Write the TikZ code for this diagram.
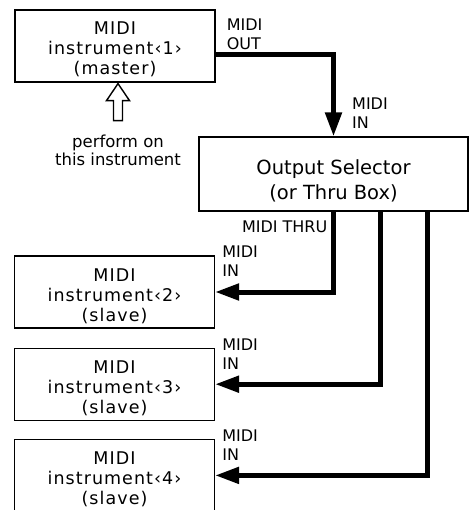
\documentclass[tikz,border=0pt]{standalone}
\usepackage{fontspec}
\setmainfont{DejaVu Sans}
\newfontfamily\widefont{DejaVu Sans}[LetterSpace=6]
\usetikzlibrary{arrows.meta, positioning}

\begin{document}
\begin{tikzpicture}[x=1pt, y=-1pt]
  \tikzset{
    inst/.style={draw, line width=1.2pt, minimum width=200pt,
      minimum height=72pt, inner sep=0pt, align=center,
      text height=62pt, text depth=4pt,
      font=\widefont\fontsize{17.5}{20}\selectfont},
    selbox/.style={inst, minimum width=269pt, minimum height=74pt,
      text height=56pt, text depth=4pt,
      font=\fontsize{19.5}{25}\selectfont},
    lbl/.style={inner sep=0pt, align=left,
      font=\fontsize{16}{19}\selectfont},
    perf/.style={inner sep=0pt, align=center,
      font=\fontsize{16.5}{18}\selectfont},
    arr/.style={-{Triangle[length=24pt, width=16pt]}, line width=5pt},
    hollow/.style={line width=1.4pt, line join=miter},
  }
  \useasboundingbox (0,0) rectangle (469,510);
  % Master and selector
  \node[inst] (b1) at (115,46) {MIDI\\instrument‹1›\\(master)};
  \node[selbox] (sel) at (333.5,174) {Output Selector\\(or Thru Box)};
  % Slaves
  \node[inst] (b2) at (114.5,292) {MIDI\\instrument‹2›\\(slave)};
  \node[inst, below=19pt of b2] (b3) {MIDI\\instrument‹3›\\(slave)};
  \node[inst, below=18pt of b3] (b4) {MIDI\\instrument‹4›\\(slave)};
  % Perform arrow
  \coordinate (tip) at ([shift={(3pt,-1pt)}]b1.south);
  \draw[hollow] (tip) -- ++(-11.5,17) -- ++(7,0) -- ++(0,20)
    -- ++(9,0) -- ++(0,-20) -- ++(7,0) -- cycle;
  \coordinate (tail) at ([yshift=-38pt]tip);
  \node[perf, anchor=north] (play) at ([yshift=-13pt]tail)
    {perform on\\this instrument};
  % Arrows
  \coordinate (outport) at ([yshift=-9pt]b1.east);
  \draw[arr] (outport) -| (sel.north);
  \draw[arr] (sel.south) |- (b2.east);
  \draw[arr] ([xshift=46.5pt]sel.south) |- (b3.east);
  \draw[arr] ([xshift=94pt]sel.south) |- (b4.east);
  % Port labels
  \node[lbl, anchor=south west] (lout) at ([shift={(11pt,5pt)}]outport)
    {MIDI\\OUT};
  \node[lbl, anchor=south west] (lin) at ([shift={(18.5pt,8pt)}]sel.north)
    {MIDI\\IN};
  \node[lbl, anchor=north east] (lthru) at ([shift={(-6pt,-9pt)}]sel.south)
    {MIDI THRU};
  \node[lbl, anchor=south west] (in2) at ([shift={(7pt,15pt)}]b2.east)
    {MIDI\\IN};
  \node[lbl, anchor=south west] (in3) at ([shift={(7pt,15pt)}]b3.east)
    {MIDI\\IN};
  \node[lbl, anchor=south west] (in4) at ([shift={(7pt,15pt)}]b4.east)
    {MIDI\\IN};
\end{tikzpicture}
\end{document}
